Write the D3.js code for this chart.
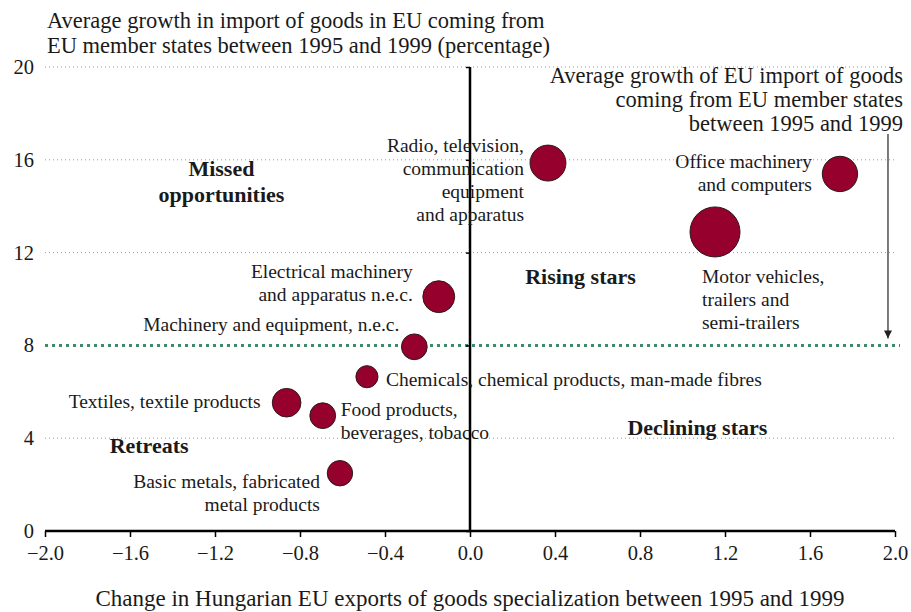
<!DOCTYPE html>
<html>
<head>
<meta charset="utf-8">
<script src="https://cdn.jsdelivr.net/npm/d3@7"></script>
<style>
  body { margin: 0; background: #fff; }
  text { font-family: "Liberation Serif", serif; fill: #1a1a1a; }
</style>
</head>
<body>
<svg width="911" height="612"></svg>
<script>
// industries, one bubble each
var names = [
  ["Radio, television,", "communication", "equipment", "and apparatus"],
  ["Office machinery", "and computers"],
  ["Motor vehicles,", "trailers and", "semi-trailers"],
  ["Electrical machinery", "and apparatus n.e.c."],
  ["Machinery and equipment, n.e.c."],
  ["Chemicals, chemical products, man-made fibres"],
  ["Textiles, textile products"],
  ["Food products,", "beverages, tobacco"],
  ["Basic metals, fabricated", "metal products"]
];
var specChange = [0.367, 1.741, 1.153, -0.147, -0.262, -0.485, -0.863, -0.693, -0.612];
var importGrowth = [15.86, 15.39, 12.89, 10.1, 7.94, 6.65, 5.53, 4.97, 2.49];
var weight = [3.3, 3.2, 6.4, 2.6, 1.7, 1.25, 2.1, 1.7, 1.65];

var xTicks = [-2.0, -1.6, -1.2, -0.8, -0.4, 0.0, 0.4, 0.8, 1.2, 1.6, 2.0];
var yTicks = [0, 4, 8, 12, 16, 20];
var euAverage = 8;

var quadrants = [
  {lines: ["Missed", "opportunities"], x: -1.17, y: 15.6},
  {lines: ["Rising stars"], x: 0.52, y: 10.95},
  {lines: ["Declining stars"], x: 1.07, y: 4.45},
  {lines: ["Retreats"], x: -1.51, y: 3.65}
];

var svg = d3.select("svg");

var x = d3.scaleLinear().domain([-2, 2]).range([45, 895]);
var y = d3.scaleLinear().domain([0, 20]).range([531, 67]);
var r = d3.scaleSqrt().domain([0, 6.4]).range([0, 25]);

// label placement relative to bubble centre
var labelPos = [
  {dx: -24, dy: -17, anchor: "end"},
  {dx: -28, dy: -12, anchor: "end"},
  {dx: -13, dy: 45, anchor: "start"},
  {dx: -26, dy: -25, anchor: "end"},
  {dx: -15, dy: -22, anchor: "end"},
  {dx: 19, dy: 3, anchor: "start"},
  {dx: -26, dy: -1, anchor: "end"},
  {dx: 18, dy: -6, anchor: "start"},
  {dx: -20, dy: 9, anchor: "end"}
];

// grid lines
svg.append("g").selectAll("line")
  .data(yTicks.filter(function(d) { return d > 0 && d != euAverage; }))
  .enter().append("line")
  .attr("x1", x(-2)).attr("x2", x(2))
  .attr("y1", function(d) { return y(d); })
  .attr("y2", function(d) { return y(d); })
  .attr("stroke", "#9a9a9a")
  .attr("stroke-width", 1)
  .attr("stroke-dasharray", "1,3");

svg.append("line")
  .attr("x1", x(-2)).attr("x2", x(2) + 5)
  .attr("y1", y(euAverage)).attr("y2", y(euAverage))
  .attr("stroke", "#3f8a68")
  .attr("stroke-width", 3)
  .attr("stroke-dasharray", "3,4");

// axes
var xAxis = d3.axisBottom(x).tickValues(xTicks).tickSize(6).tickPadding(8)
  .tickFormat(function(d) { return d3.format(".1f")(d).replace("-", "\u2013"); });
var gx = svg.append("g")
  .attr("transform", "translate(0," + y(0) + ")")
  .call(xAxis);
gx.select(".domain").attr("stroke", "#000").attr("stroke-width", 2.5)
  .attr("d", "M" + x(-2) + ",0H" + x(2));
gx.selectAll(".tick line").attr("stroke", "#000").attr("stroke-width", 1.5);
gx.selectAll(".tick text").attr("font-family", "Liberation Serif").attr("font-size", 20.5).attr("fill", "#1a1a1a");

var yAxis = d3.axisLeft(y).tickValues(yTicks).tickSize(4).tickFormat("");
var gy = svg.append("g")
  .attr("transform", "translate(" + x(0) + ",0)")
  .call(yAxis);
gy.select(".domain").attr("stroke", "#000").attr("stroke-width", 2.5)
  .attr("d", "M0," + y(20) + "V" + y(0));
gy.selectAll(".tick line").attr("stroke", "#000").attr("stroke-width", 1.5);

svg.append("g").selectAll("text")
  .data(yTicks)
  .enter().append("text")
  .attr("x", 34)
  .attr("y", function(d) { return y(d) + 7; })
  .attr("text-anchor", "end")
  .attr("font-size", 20.5)
  .text(function(d) { return d; });

// titles
svg.append("text")
  .attr("x", 47).attr("y", 28)
  .attr("font-size", 22.5)
  .selectAll("tspan")
  .data(["Average growth in import of goods in EU coming from",
         "EU member states between 1995 and 1999 (percentage)"])
  .enter().append("tspan")
  .attr("x", 47)
  .attr("dy", function(d, i) { return i ? 25 : 0; })
  .text(function(d) { return d; });

svg.append("text")
  .attr("x", x(0)).attr("y", 606)
  .attr("text-anchor", "middle")
  .attr("font-size", 23)
  .text("Change in Hungarian EU exports of goods specialization between 1995 and 1999");

// EU average annotation with arrow
var note = svg.append("text")
  .attr("x", 903).attr("y", 83)
  .attr("text-anchor", "end")
  .attr("font-size", 22.5);
note.selectAll("tspan")
  .data(["Average growth of EU import of goods", "coming from EU member states", "between 1995 and 1999"])
  .enter().append("tspan")
  .attr("x", 903)
  .attr("dy", function(d, i) { return i ? 24 : 0; })
  .text(function(d) { return d; });

svg.append("defs").append("marker")
  .attr("id", "arrow")
  .attr("viewBox", "0 0 10 10")
  .attr("refX", 10).attr("refY", 5)
  .attr("markerWidth", 8).attr("markerHeight", 10)
  .attr("markerUnits", "userSpaceOnUse")
  .attr("orient", "auto")
  .append("path")
  .attr("d", "M0,0L10,5L0,10z")
  .attr("fill", "#222");

svg.append("line")
  .attr("x1", x(1.967)).attr("x2", x(1.967))
  .attr("y1", 134).attr("y2", y(euAverage) - 7)
  .attr("stroke", "#222")
  .attr("stroke-width", 1.2)
  .attr("marker-end", "url(#arrow)");

// bubbles
svg.append("g").selectAll("circle")
  .data(weight)
  .enter().append("circle")
  .attr("cx", function(d, i) { return x(specChange[i]); })
  .attr("cy", function(d, i) { return y(importGrowth[i]); })
  .attr("r", function(d) { return r(d); })
  .attr("fill", "#96002d")
  .attr("stroke", "#2a1a1a")
  .attr("stroke-width", 1);

// bubble labels
var labels = svg.append("g").selectAll("text")
  .data(names)
  .enter().append("text")
  .attr("font-size", 19.5)
  .attr("text-anchor", function(d, i) { return labelPos[i].anchor; })
  .attr("transform", function(d, i) {
    return "translate(" + (x(specChange[i]) + labelPos[i].dx) + "," + (y(importGrowth[i]) + labelPos[i].dy + 6) + ")";
  });
labels.selectAll("tspan")
  .data(function(d) { return d; })
  .enter().append("tspan")
  .attr("x", 0)
  .attr("dy", function(d, i) { return i ? 23 : 0; })
  .text(function(d) { return d; });

// quadrant captions
var quad = svg.append("g").selectAll("text")
  .data(quadrants)
  .enter().append("text")
  .attr("font-size", 22)
  .attr("font-weight", "bold")
  .attr("text-anchor", "middle")
  .attr("x", function(d) { return x(d.x); })
  .attr("y", function(d) { return y(d.y) + 7; });
quad.selectAll("tspan")
  .data(function(d) { return d.lines; })
  .enter().append("tspan")
  .attr("x", function() { return d3.select(this.parentNode).attr("x"); })
  .attr("dy", function(d, i) { return i ? 26 : 0; })
  .text(function(d) { return d; });
</script>
</body>
</html>
